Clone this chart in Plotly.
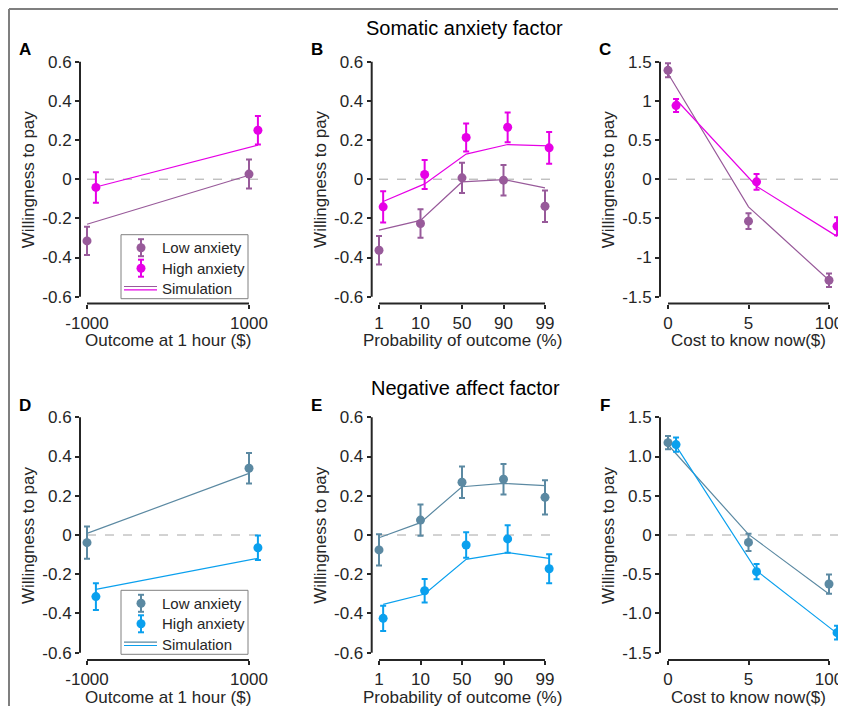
import plotly.graph_objects as go

W, H = 846, 714
PAGE = 8  # the page body keeps an 8px margin around the figure

# ---------------- data ----------------
outcome_ticks = ['-1000', '1000']
prob_ticks = ['1', '10', '50', '90', '99']
cost_ticks = ['0', '5', '100']

wtp_vals = [-0.6, -0.4, -0.2, 0, 0.2, 0.4, 0.6]
wtp_text = ['-0.6', '-0.4', '-0.2', '0', '0.2', '0.4', '0.6']
cost_wtp_vals = [-1.5, -1, -0.5, 0, 0.5, 1, 1.5]
c_wtp_text = ['-1.5', '-1', '-0.5', '0', '0.5', '1', '1.5']
f_wtp_text = ['-1.5', '-1.0', '-0.5', '0', '0.5', '1.0', '1.5']

# Somatic anxiety factor
a_low = [-0.315, 0.026]
a_low_err = [0.072, 0.074]
a_high = [-0.042, 0.25]
a_high_err = [0.078, 0.073]
a_sim_low = [-0.23, 0.02]
a_sim_high = [-0.04, 0.174]

b_low = [-0.363, -0.226, 0.007, -0.005, -0.138]
b_low_err = [0.073, 0.073, 0.077, 0.078, 0.08]
b_high = [-0.141, 0.024, 0.213, 0.265, 0.16]
b_high_err = [0.08, 0.074, 0.072, 0.076, 0.081]
b_sim_low = [-0.26, -0.21, -0.014, -0.002, -0.044]
b_sim_high = [-0.114, -0.024, 0.128, 0.177, 0.17]

c_low = [1.39, -0.536, -1.29]
c_low_err = [0.09, 0.1, 0.085]
c_high = [0.94, -0.034, -0.60]
c_high_err = [0.083, 0.1, 0.115]
c_sim_low = [1.35, -0.353, -1.29]
c_sim_high = [1.017, -0.09, -0.73]

# Negative affect factor
d_low = [-0.039, 0.34]
d_low_err = [0.082, 0.078]
d_high = [-0.314, -0.065]
d_high_err = [0.068, 0.062]
d_sim_low = [0.008, 0.314]
d_sim_high = [-0.277, -0.119]

e_low = [-0.076, 0.076, 0.269, 0.284, 0.192]
e_low_err = [0.08, 0.08, 0.08, 0.078, 0.087]
e_high = [-0.425, -0.284, -0.051, -0.02, -0.172]
e_high_err = [0.064, 0.06, 0.065, 0.07, 0.074]
e_sim_low = [-0.014, 0.063, 0.246, 0.263, 0.252]
e_sim_high = [-0.354, -0.301, -0.124, -0.09, -0.119]

f_low = [1.177, -0.094, -0.625]
f_low_err = [0.085, 0.11, 0.123]
f_high = [1.152, -0.467, -1.245]
f_high_err = [0.09, 0.098, 0.087]
f_sim_low = [1.15, 0.008, -0.752]
f_sim_high = [1.135, -0.455, -1.254]

# ---------------- style ----------------
PURPLE = '#985A9A'
MAGENTA = '#E600E6'
STEEL = '#5B89A2'
BLUE = '#0AA0EE'
INK = '#262626'
FONT = "Arial, 'Liberation Sans', sans-serif"

# pixel geometry of the panels (screen pixels)
cols = [dict(L=80, p0=87, p1=249, off=0.055),
        dict(L=371.7, p0=379, p1=545, off=0.1),
        dict(L=660, p0=668, p1=829, off=0.1)]
rows = [dict(top=61.7, bot=296.7, xline=303.5),
        dict(top=417.3, bot=652.7, xline=660)]

panels = [
    (0, 0, 'A', outcome_ticks, 'Outcome at 1 hour ($)', a_low, a_low_err, a_high, a_high_err, a_sim_low, a_sim_high, wtp_vals, wtp_text, PURPLE, MAGENTA),
    (0, 1, 'B', prob_ticks, 'Probability of outcome (%)', b_low, b_low_err, b_high, b_high_err, b_sim_low, b_sim_high, wtp_vals, wtp_text, PURPLE, MAGENTA),
    (0, 2, 'C', cost_ticks, 'Cost to know now($)', c_low, c_low_err, c_high, c_high_err, c_sim_low, c_sim_high, cost_wtp_vals, c_wtp_text, PURPLE, MAGENTA),
    (1, 0, 'D', outcome_ticks, 'Outcome at 1 hour ($)', d_low, d_low_err, d_high, d_high_err, d_sim_low, d_sim_high, wtp_vals, wtp_text, STEEL, BLUE),
    (1, 1, 'E', prob_ticks, 'Probability of outcome (%)', e_low, e_low_err, e_high, e_high_err, e_sim_low, e_sim_high, wtp_vals, wtp_text, STEEL, BLUE),
    (1, 2, 'F', cost_ticks, 'Cost to know now($)', f_low, f_low_err, f_high, f_high_err, f_sim_low, f_sim_high, cost_wtp_vals, f_wtp_text, STEEL, BLUE),
]

# figure sized so the page (with its body margin) does not scroll
FW, FH = W - PAGE, H - 2 * PAGE


def px(p):
    return (p - PAGE) / FW


def py(p):
    return 1 - (p - PAGE) / FH


fig = go.Figure()
shapes = []
annotations = []
layout = {}

for i, (r, c, letter, xt, xtitle, low, low_err, high, high_err, sim_low, sim_high, yv, ytxt, col_low, col_high) in enumerate(panels):
    sfx = '' if i == 0 else str(i + 1)
    cg, rg = cols[c], rows[r]
    L, p0, p1, off = cg['L'], cg['p0'], cg['p1'], cg['off']
    top, bot, xline = rg['top'], rg['bot'], rg['xline']
    n = len(xt)
    idx = list(range(n))
    idx_hi = [k + off for k in idx]
    s = (p1 - p0) / (n - 1)
    R = min(p1 + 16, W)
    ymin, ymax = yv[0], yv[-1]
    k = (bot - top) / (ymax - ymin)

    tick_style = dict(ticks='outside', ticklen=4, tickwidth=2, tickcolor=INK,
                      showgrid=False, zeroline=False, showline=False, automargin=False,
                      tickfont=dict(size=17, color=INK, family=FONT))
    layout['xaxis' + sfx] = dict(domain=[px(L), px(R)], anchor='y' + sfx,
                                 range=[(L - p0) / s, (R - p0) / s],
                                 tickvals=idx, ticktext=xt, **tick_style)
    layout['yaxis' + sfx] = dict(domain=[py(xline), py(top - 10)], anchor='x' + sfx,
                                 range=[ymin - (xline - bot) / k, ymax + 10 / k],
                                 tickvals=yv, ticktext=ytxt, **tick_style)

    xa, ya = 'x' + sfx, 'y' + sfx
    fig.add_trace(go.Scatter(x=idx, y=sim_low, mode='lines', xaxis=xa, yaxis=ya,
                             line=dict(color=col_low, width=1.2)))
    fig.add_trace(go.Scatter(x=idx_hi, y=sim_high, mode='lines', xaxis=xa, yaxis=ya,
                             line=dict(color=col_high, width=1.2)))
    fig.add_trace(go.Scatter(x=idx, y=low, mode='markers', xaxis=xa, yaxis=ya, cliponaxis=False,
                             marker=dict(size=9, color=col_low),
                             error_y=dict(type='data', array=low_err, color=col_low, thickness=2, width=3)))
    fig.add_trace(go.Scatter(x=idx_hi, y=high, mode='markers', xaxis=xa, yaxis=ya, cliponaxis=False,
                             marker=dict(size=9, color=col_high),
                             error_y=dict(type='data', array=high_err, color=col_high, thickness=2, width=3)))

    # offset axis lines and the dashed zero line
    shapes.append(dict(type='line', xref=xa + ' domain', yref=ya, x0=0, x1=0, y0=ymin, y1=ymax,
                       line=dict(color=INK, width=2)))
    shapes.append(dict(type='line', xref=xa, yref=ya + ' domain', x0=0, x1=n - 1, y0=0, y1=0,
                       line=dict(color=INK, width=2)))
    shapes.append(dict(type='line', xref=xa, yref=ya, x0=0, x1=n - 1 + off * 1.3, y0=0, y1=0,
                       layer='below', line=dict(color='#A6A6A6', width=1, dash='dash')))

    annotations.append(dict(text='Willingness to pay', xref='paper', yref='paper',
                            x=px(L - 52), y=py((top + bot) / 2), textangle=-90,
                            xanchor='center', yanchor='middle',
                            showarrow=False, font=dict(size=17, color=INK, family=FONT)))
    annotations.append(dict(text=xtitle, xref='paper', yref='paper',
                            x=px((p0 + p1) / 2), y=py(xline + 37),
                            xanchor='center', yanchor='middle',
                            showarrow=False, font=dict(size=17, color=INK, family=FONT)))
    annotations.append(dict(text='<b>' + letter + '</b>', xref='paper', yref='paper',
                            x=px(L - 55), y=py(top - 12),
                            xanchor='center', yanchor='middle',
                            showarrow=False, font=dict(size=17, color='black', family=FONT)))

    # hand drawn legend (panels A and D)
    if c == 0:
        shapes.append(dict(type='rect', xref='paper', yref='paper',
                           x0=px(L + 41), x1=px(L + 168), y0=py(top + 237), y1=py(top + 173),
                           fillcolor='white', line=dict(color='#808080', width=1)))
        ys = [top + 186, top + 206.5, top + 227]
        mx = L + 61
        for yy, cc in [(ys[0], col_low), (ys[1], col_high)]:
            shapes.append(dict(type='line', xref='paper', yref='paper', x0=px(mx), x1=px(mx),
                               y0=py(yy - 8.5), y1=py(yy + 8.5), line=dict(color=cc, width=2)))
            for dy in (-8.5, 8.5):
                shapes.append(dict(type='line', xref='paper', yref='paper', x0=px(mx - 3), x1=px(mx + 3),
                                   y0=py(yy + dy), y1=py(yy + dy), line=dict(color=cc, width=2)))
            shapes.append(dict(type='circle', xref='paper', yref='paper', x0=px(mx - 4.5), x1=px(mx + 4.5),
                               y0=py(yy + 4.5), y1=py(yy - 4.5), fillcolor=cc, line=dict(width=0)))
        shapes.append(dict(type='line', xref='paper', yref='paper', x0=px(L + 44), x1=px(L + 77),
                           y0=py(ys[2] - 2.2), y1=py(ys[2] - 2.2), line=dict(color=col_low, width=1.2)))
        shapes.append(dict(type='line', xref='paper', yref='paper', x0=px(L + 44), x1=px(L + 77),
                           y0=py(ys[2] + 1.2), y1=py(ys[2] + 1.2), line=dict(color=col_high, width=1.2)))
        for yy, txt in zip(ys, ['Low anxiety', 'High anxiety', 'Simulation']):
            annotations.append(dict(text=txt, xref='paper', yref='paper', x=px(L + 80), y=py(yy),
                                    xanchor='left', yanchor='middle', showarrow=False,
                                    font=dict(size=15, color=INK, family=FONT)))

# row titles
annotations.append(dict(text='Somatic anxiety factor', xref='paper', yref='paper', x=px(464.5), y=py(28),
                        xanchor='center', yanchor='middle',
                        showarrow=False, font=dict(size=20, color='black', family=FONT)))
annotations.append(dict(text='Negative affect factor', xref='paper', yref='paper', x=px(465.5), y=py(388),
                        xanchor='center', yanchor='middle',
                        showarrow=False, font=dict(size=20, color='black', family=FONT)))

# outer frame (top and left edges are visible)
shapes.append(dict(type='line', xref='paper', yref='paper', x0=px(9), x1=1.02, y0=py(9), y1=py(9),
                   line=dict(color='#7F7F7F', width=2)))
shapes.append(dict(type='line', xref='paper', yref='paper', x0=px(9), x1=px(9), y0=py(9), y1=-0.02,
                   line=dict(color='#7F7F7F', width=2)))

fig.update_layout(**layout)
fig.update_layout(
    width=FW, height=FH,
    margin=dict(l=0, r=0, t=0, b=0, autoexpand=False),
    plot_bgcolor='white', paper_bgcolor='white',
    showlegend=False,
    font=dict(family=FONT, color=INK),
    shapes=shapes,
    annotations=annotations,
)

fig.write_html("out.html")
